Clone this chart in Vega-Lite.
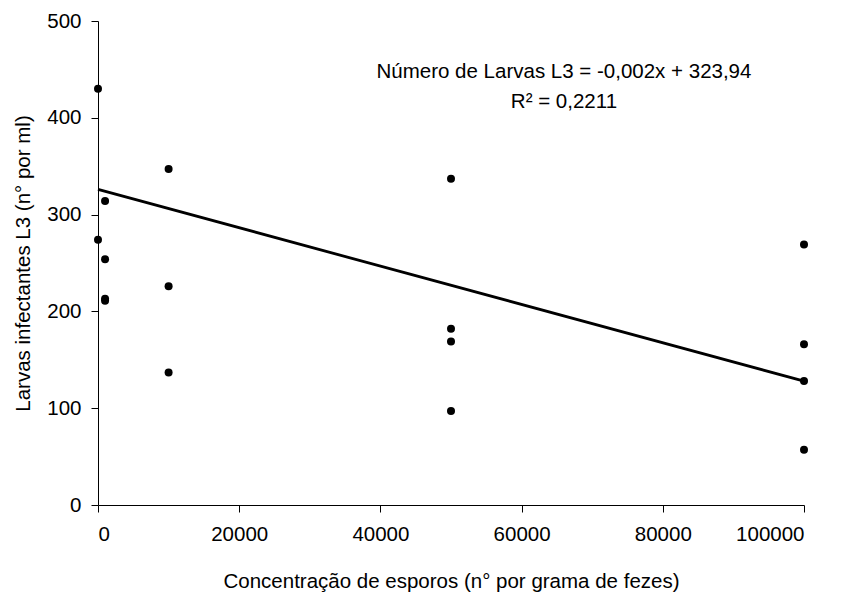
{
  "$schema": "https://vega.github.io/schema/vega-lite/v6.json",
  "width": 706,
  "height": 484,
  "autosize": {"type": "none"},
  "padding": {"left": 98, "top": 21, "right": 39, "bottom": 97},
  "background": "white",
  "config": {
    "view": {"stroke": null},
    "font": "Liberation Sans",
    "axis": {"grid": false, "domainColor": "black", "tickColor": "black", "labelColor": "black", "titleColor": "black", "labelFont": "Liberation Sans", "titleFont": "Liberation Sans", "titleFontWeight": "normal", "labelFontSize": 20.5, "titleFontSize": 20.5, "tickSize": 7, "domainWidth": 1, "tickWidth": 1}
  },
  "datasets": {
    "pts": [
      {"conc": 0, "larvas": 430},
      {"conc": 0, "larvas": 274},
      {"conc": 1000, "larvas": 314},
      {"conc": 1000, "larvas": 254},
      {"conc": 1000, "larvas": 213},
      {"conc": 1000, "larvas": 211},
      {"conc": 10000, "larvas": 347},
      {"conc": 10000, "larvas": 226},
      {"conc": 10000, "larvas": 137},
      {"conc": 50000, "larvas": 337},
      {"conc": 50000, "larvas": 182},
      {"conc": 50000, "larvas": 169},
      {"conc": 50000, "larvas": 97},
      {"conc": 100000, "larvas": 269},
      {"conc": 100000, "larvas": 166},
      {"conc": 100000, "larvas": 128},
      {"conc": 100000, "larvas": 57}
    ],
    "trend": [
      {"conc": 0, "larvas": 326},
      {"conc": 100000, "larvas": 128}
    ],
    "labels": [
      {"conc": 66000, "larvas": 447, "text": "Número de Larvas L3 = -0,002x + 323,94"},
      {"conc": 66000, "larvas": 416, "text": "R² = 0,2211"}
    ]
  },
  "layer": [
    {
      "data": {"name": "trend"},
      "mark": {"type": "line", "color": "black", "strokeWidth": 2.8},
      "encoding": {
        "x": {"field": "conc", "type": "quantitative", "scale": {"domain": [0, 100000], "nice": false}, "axis": {"values": [0, 20000, 40000, 60000, 80000, 100000], "title": "Concentração de esporos (n° por grama de fezes)", "labelPadding": 12, "titlePadding": 27, "format": "d"}},
        "y": {"field": "larvas", "type": "quantitative", "scale": {"domain": [0, 500], "nice": false}, "axis": {"values": [0, 100, 200, 300, 400, 500], "title": "Larvas infectantes L3 (n° por ml)", "labelPadding": 10, "titlePadding": 13}}
      }
    },
    {
      "data": {"name": "pts"},
      "mark": {"type": "point", "filled": true, "color": "black", "opacity": 1, "size": 64},
      "encoding": {
        "x": {"field": "conc", "type": "quantitative"},
        "y": {"field": "larvas", "type": "quantitative"}
      }
    },
    {
      "data": {"name": "labels"},
      "mark": {"type": "text", "font": "Liberation Sans", "fontSize": 20.5, "align": "center", "baseline": "middle", "color": "black"},
      "encoding": {
        "x": {"field": "conc", "type": "quantitative"},
        "y": {"field": "larvas", "type": "quantitative"},
        "text": {"field": "text"}
      }
    }
  ]
}
